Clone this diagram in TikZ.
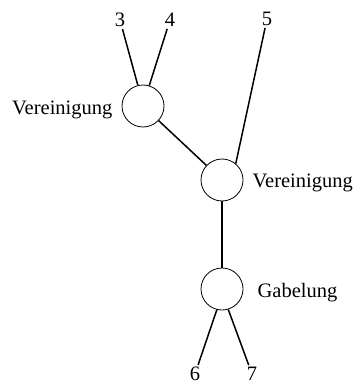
\documentclass[tikz,border=0pt]{standalone}
\usepackage{fontspec}
\setmainfont{Liberation Serif}
\usetikzlibrary{positioning}
\begin{document}
\begin{tikzpicture}[x=1pt,y=-1pt]
	\tikzstyle{knoten}=[circle,draw=black,line width=0.8pt,minimum size=42pt,inner sep=0pt]
	\tikzstyle{nummer}=[inner sep=2pt,font=\fontsize{20.5}{24}\selectfont]
	\tikzstyle{beschrift}=[inner sep=0pt,font=\fontsize{20.5}{24}\selectfont]
	\tikzstyle{kante}=[line width=1.5pt]
	\useasboundingbox (0,0) rectangle (359,385);
	% Knoten
	\node[knoten] (ver-oben) at (143,106) {};
	\node[knoten] (ver-mitte) at (222,180) {};
	\node[knoten] (gab) at (222,289) {};
	\node[nummer] (n3) at (120,20) {3};
	\node[nummer] (n4) at (170,20) {4};
	\node[nummer] (n5) at (267,19) {5};
	\node[nummer] (n6) at (195,374) {6};
	\node[nummer] (n7) at (252,374) {7};
	% Beschriftungen
	\node[beschrift,left=9pt of ver-oben,yshift=-4pt] (l-oben) {Vereinigung};
	\node[beschrift,right=9pt of ver-mitte,yshift=-3pt] (l-mitte) {Vereinigung};
	\node[beschrift,right=14pt of gab,yshift=-4pt] (l-gab) {Gabelung};
	% Kanten
	\draw[kante] (n3) -- (ver-oben.104);
	\draw[kante] (n4) -- (ver-oben.73);
	\draw[kante] (n5) -- (ver-mitte.50);
	\draw[kante] (ver-oben) -- (ver-mitte);
	\draw[kante] (ver-mitte) -- (gab);
	\draw[kante] (gab.256) -- (n6);
	\draw[kante] (gab.287) -- (n7);
\end{tikzpicture}
\end{document}
